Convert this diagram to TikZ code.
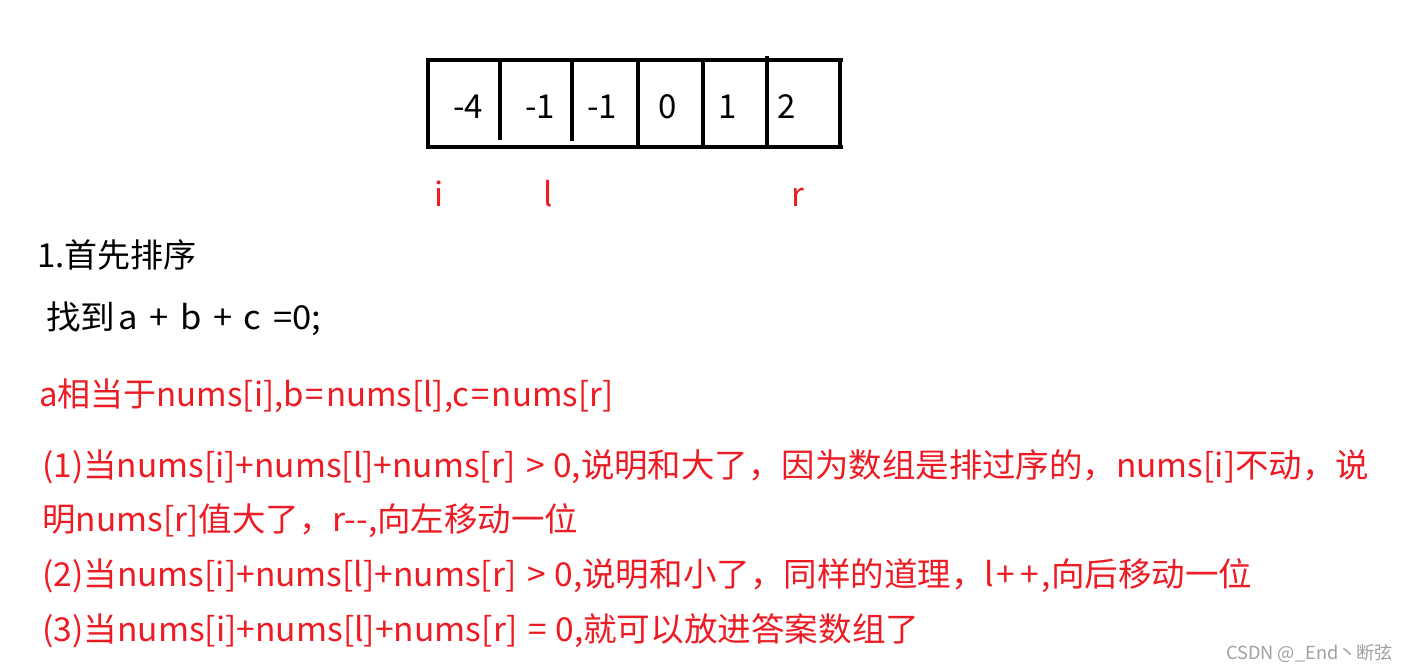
\documentclass[tikz,border=0pt]{standalone}
\usepackage{fontspec}
\usepackage{graphicx}
\setmainfont{Noto Sans CJK SC}
\definecolor{pred}{RGB}{237,28,36}
\definecolor{wmgray}{RGB}{160,160,160}
\newcommand\fitw[2]{\resizebox{#1}{\height}{#2}}
\newcommand\wsp{\hspace{11pt}}
\newcommand\pp{\hspace{2.5pt}+\hspace{2.5pt}}
\newcommand\eqq{\hspace{2pt}=\hspace{2pt}}
\tikzset{
  txt/.style={anchor=base west,inner sep=0pt,font=\fontsize{33}{33}\selectfont},
  cell/.style={anchor=base,inner sep=0pt,font=\fontsize{33}{33}\selectfont},
  ptr/.style={anchor=base,inner sep=0pt,text=pred,font=\fontsize{33}{33}\selectfont},
  grid/.style={line width=4pt,black}
}
\begin{document}
\begin{tikzpicture}[x=1pt,y=-1pt]
\useasboundingbox (0,0) rectangle (1409,671);
\fill[white] (0,0) rectangle (1409,671);
% array frame
\draw[grid] (428,60) -- (843,60);
\draw[grid] (428,147) -- (843,147);
\draw[grid] (428,58) -- (428,149);
\draw[grid] (500,60) -- (500,140);
\draw[grid] (572,60) -- (572,141);
\draw[grid] (638,60) -- (638,147);
\draw[grid] (703,60) -- (703,147);
\draw[grid] (767,56) -- (767,147);
\draw[grid] (840,62) -- (840,147);
% cell values
\node[cell] (c1) at (468,119) {-4};
\node[cell] (c2) at (540,119) {-1};
\node[cell] (c3) at (602,119) {-1};
\node[cell] (c4) at (668,119) {0};
\node[cell] (c5) at (728,119) {1};
\node[cell] (c6) at (787,119) {2};
% pointers
\node[ptr] (pi) at (439,207) {i};
\node[ptr] (pl) at (548,207) {l};
\node[ptr] (pr) at (798,207) {r};
% text lines
\node[txt] (t1) at (37,268) {1.首先排序};
\node[txt] (t2) at (46,330) {\fitw{275pt}{找到\hspace{3pt}a\wsp+\wsp b\wsp+\wsp c\wsp=0;}};
\node[txt,text=pred] (t3) at (39,406) {\fitw{574pt}{a相当于nums[i],b\eqq nums[l],c\eqq nums[r]}};
\node[txt,text=pred] (t4) at (42,477) {\fitw{1327pt}{(1)当nums[i]+nums[l]+nums[r]\wsp>\hspace{8pt}0,说明和大了，因为数组是排过序的，nums[i]不动，说}};
\node[txt,text=pred] (t5) at (42,531) {\fitw{536pt}{明nums[r]值大了，r-{}-{},向左移动一位}};
\node[txt,text=pred] (t6) at (42,586) {\fitw{1210pt}{(2)当nums[i]+nums[l]+nums[r]\wsp>\hspace{8pt}0,说明和小了，同样的道理，l\pp\pp,向后移动一位}};
\node[txt,text=pred] (t7) at (42,641) {\fitw{877pt}{(3)当nums[i]+nums[l]+nums[r]\wsp=\hspace{8pt}0,就可以放进答案数组了}};
% watermark
\node[anchor=base west,inner sep=0pt,text=wmgray,font=\fontsize{18}{18}\selectfont] (wm) at (1226,659) {\fitw{167pt}{CSDN @\_End丶断弦}};
\end{tikzpicture}
\end{document}
